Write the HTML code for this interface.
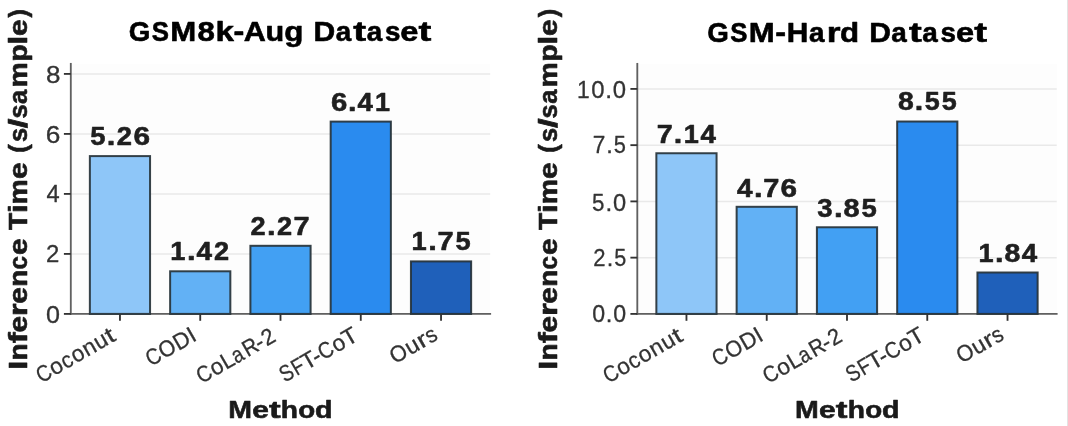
<!DOCTYPE html>
<html><head><meta charset="utf-8"><style>
html,body{margin:0;padding:0;background:#fff;width:1068px;height:426px;overflow:hidden}
svg{display:block;will-change:transform;font-family:"Liberation Sans", sans-serif}
</style></head><body>
<svg width="1068" height="426" viewBox="0 0 1068 426" shape-rendering="auto">
<rect width="1068" height="426" fill="#fff"/>
<rect x="70.80" y="63.85" width="419.40" height="250.05" fill="#fdfdfd"/>
<line x1="70.80" x2="490.20" y1="313.90" y2="313.90" stroke="#e9e9e9" stroke-width="1.5"/>
<line x1="70.80" x2="490.20" y1="253.90" y2="253.90" stroke="#e9e9e9" stroke-width="1.5"/>
<line x1="70.80" x2="490.20" y1="193.90" y2="193.90" stroke="#e9e9e9" stroke-width="1.5"/>
<line x1="70.80" x2="490.20" y1="133.90" y2="133.90" stroke="#e9e9e9" stroke-width="1.5"/>
<line x1="70.80" x2="490.20" y1="73.90" y2="73.90" stroke="#e9e9e9" stroke-width="1.5"/>
<line x1="70.80" x2="70.80" y1="62.95" y2="314.80" stroke="#606060" stroke-width="1.85"/>
<line x1="69.90" x2="491.10" y1="313.90" y2="313.90" stroke="#606060" stroke-width="1.85"/>
<rect x="89.86" y="156.10" width="60.20" height="157.80" fill="#8EC6F8" stroke="#263238" stroke-opacity="0.92" stroke-width="2.0"/>
<rect x="170.13" y="271.30" width="60.20" height="42.60" fill="#62B1F5" stroke="#263238" stroke-opacity="0.92" stroke-width="2.0"/>
<rect x="250.40" y="245.80" width="60.20" height="68.10" fill="#42A0F3" stroke="#263238" stroke-opacity="0.92" stroke-width="2.0"/>
<rect x="330.67" y="121.60" width="60.20" height="192.30" fill="#2A8BEF" stroke="#263238" stroke-opacity="0.92" stroke-width="2.0"/>
<rect x="410.94" y="261.40" width="60.20" height="52.50" fill="#1F60BA" stroke="#263238" stroke-opacity="0.92" stroke-width="2.0"/>
<line x1="63.90" x2="70.80" y1="313.90" y2="313.90" stroke="#333333" stroke-width="1.85"/>
<line x1="63.90" x2="70.80" y1="253.90" y2="253.90" stroke="#333333" stroke-width="1.85"/>
<line x1="63.90" x2="70.80" y1="193.90" y2="193.90" stroke="#333333" stroke-width="1.85"/>
<line x1="63.90" x2="70.80" y1="133.90" y2="133.90" stroke="#333333" stroke-width="1.85"/>
<line x1="63.90" x2="70.80" y1="73.90" y2="73.90" stroke="#333333" stroke-width="1.85"/>
<line x1="119.96" x2="119.96" y1="313.90" y2="320.80" stroke="#333333" stroke-width="1.85"/>
<line x1="200.23" x2="200.23" y1="313.90" y2="320.80" stroke="#333333" stroke-width="1.85"/>
<line x1="280.50" x2="280.50" y1="313.90" y2="320.80" stroke="#333333" stroke-width="1.85"/>
<line x1="360.77" x2="360.77" y1="313.90" y2="320.80" stroke="#333333" stroke-width="1.85"/>
<line x1="441.04" x2="441.04" y1="313.90" y2="320.80" stroke="#333333" stroke-width="1.85"/>
<rect x="637.30" y="63.85" width="419.40" height="250.05" fill="#fdfdfd"/>
<line x1="637.30" x2="1056.70" y1="313.90" y2="313.90" stroke="#e9e9e9" stroke-width="1.5"/>
<line x1="637.30" x2="1056.70" y1="257.65" y2="257.65" stroke="#e9e9e9" stroke-width="1.5"/>
<line x1="637.30" x2="1056.70" y1="201.40" y2="201.40" stroke="#e9e9e9" stroke-width="1.5"/>
<line x1="637.30" x2="1056.70" y1="145.15" y2="145.15" stroke="#e9e9e9" stroke-width="1.5"/>
<line x1="637.30" x2="1056.70" y1="88.90" y2="88.90" stroke="#e9e9e9" stroke-width="1.5"/>
<line x1="637.30" x2="637.30" y1="62.95" y2="314.80" stroke="#606060" stroke-width="1.85"/>
<line x1="636.40" x2="1057.60" y1="313.90" y2="313.90" stroke="#606060" stroke-width="1.85"/>
<rect x="656.36" y="153.25" width="60.20" height="160.65" fill="#8EC6F8" stroke="#263238" stroke-opacity="0.92" stroke-width="2.0"/>
<rect x="736.63" y="206.80" width="60.20" height="107.10" fill="#62B1F5" stroke="#263238" stroke-opacity="0.92" stroke-width="2.0"/>
<rect x="816.90" y="227.27" width="60.20" height="86.62" fill="#42A0F3" stroke="#263238" stroke-opacity="0.92" stroke-width="2.0"/>
<rect x="897.17" y="121.52" width="60.20" height="192.38" fill="#2A8BEF" stroke="#263238" stroke-opacity="0.92" stroke-width="2.0"/>
<rect x="977.44" y="272.50" width="60.20" height="41.40" fill="#1F60BA" stroke="#263238" stroke-opacity="0.92" stroke-width="2.0"/>
<line x1="630.40" x2="637.30" y1="313.90" y2="313.90" stroke="#333333" stroke-width="1.85"/>
<line x1="630.40" x2="637.30" y1="257.65" y2="257.65" stroke="#333333" stroke-width="1.85"/>
<line x1="630.40" x2="637.30" y1="201.40" y2="201.40" stroke="#333333" stroke-width="1.85"/>
<line x1="630.40" x2="637.30" y1="145.15" y2="145.15" stroke="#333333" stroke-width="1.85"/>
<line x1="630.40" x2="637.30" y1="88.90" y2="88.90" stroke="#333333" stroke-width="1.85"/>
<line x1="686.46" x2="686.46" y1="313.90" y2="320.80" stroke="#333333" stroke-width="1.85"/>
<line x1="766.73" x2="766.73" y1="313.90" y2="320.80" stroke="#333333" stroke-width="1.85"/>
<line x1="847.00" x2="847.00" y1="313.90" y2="320.80" stroke="#333333" stroke-width="1.85"/>
<line x1="927.27" x2="927.27" y1="313.90" y2="320.80" stroke="#333333" stroke-width="1.85"/>
<line x1="1007.54" x2="1007.54" y1="313.90" y2="320.80" stroke="#333333" stroke-width="1.85"/>
<text id="t0" y="41.22" font-size="28.40" font-weight="bold" stroke="#000" stroke-width="0.6" stroke-linejoin="round" fill="#000"><tspan x="128.77" textLength="21.61" lengthAdjust="spacingAndGlyphs">G</tspan><tspan x="151.82" textLength="17.22" lengthAdjust="spacingAndGlyphs">S</tspan><tspan x="170.38" textLength="25.98" lengthAdjust="spacingAndGlyphs">M</tspan><tspan x="197.40" textLength="17.35" lengthAdjust="spacingAndGlyphs">8</tspan><tspan x="215.40" textLength="18.41" lengthAdjust="spacingAndGlyphs">k</tspan><tspan x="233.52" textLength="10.81" lengthAdjust="spacingAndGlyphs">-</tspan><tspan x="243.86" textLength="22.11" lengthAdjust="spacingAndGlyphs">A</tspan><tspan x="265.50" textLength="18.70" lengthAdjust="spacingAndGlyphs">u</tspan><tspan x="284.36" textLength="19.16" lengthAdjust="spacingAndGlyphs">g</tspan><tspan x="304.41"> </tspan><tspan x="313.49" textLength="21.72" lengthAdjust="spacingAndGlyphs">D</tspan><tspan x="335.69" textLength="15.51" lengthAdjust="spacingAndGlyphs">a</tspan><tspan x="353.38" textLength="12.82" lengthAdjust="spacingAndGlyphs">t</tspan><tspan x="366.68" textLength="15.51" lengthAdjust="spacingAndGlyphs">a</tspan><tspan x="384.90" textLength="15.45" lengthAdjust="spacingAndGlyphs">s</tspan><tspan x="400.37" textLength="18.17" lengthAdjust="spacingAndGlyphs">e</tspan><tspan x="418.61" textLength="12.82" lengthAdjust="spacingAndGlyphs">t</tspan></text>
<text id="xl0" y="418.40" font-size="24.70" font-weight="bold" stroke="#1a1a1a" stroke-width="0.6" stroke-linejoin="round" fill="#1a1a1a"><tspan x="228.23" textLength="23.76" lengthAdjust="spacingAndGlyphs">M</tspan><tspan x="252.24" textLength="16.62" lengthAdjust="spacingAndGlyphs">e</tspan><tspan x="268.92" textLength="11.73" lengthAdjust="spacingAndGlyphs">t</tspan><tspan x="280.87" textLength="17.24" lengthAdjust="spacingAndGlyphs">h</tspan><tspan x="298.26" textLength="16.95" lengthAdjust="spacingAndGlyphs">o</tspan><tspan x="315.11" textLength="17.49" lengthAdjust="spacingAndGlyphs">d</tspan></text>
<text id="yl0" y="188.97" font-size="24.90" font-weight="bold" stroke="#1a1a1a" stroke-width="0.6" stroke-linejoin="round" fill="#1a1a1a" transform="rotate(-90 27.00 188.97)"><tspan x="-153.77" textLength="8.91" lengthAdjust="spacingAndGlyphs">I</tspan><tspan x="-144.52" textLength="17.10" lengthAdjust="spacingAndGlyphs">n</tspan><tspan x="-127.33" textLength="10.94" lengthAdjust="spacingAndGlyphs">f</tspan><tspan x="-116.65" textLength="16.62" lengthAdjust="spacingAndGlyphs">e</tspan><tspan x="-99.94" textLength="12.61" lengthAdjust="spacingAndGlyphs">r</tspan><tspan x="-87.86" textLength="16.62" lengthAdjust="spacingAndGlyphs">e</tspan><tspan x="-70.85" textLength="17.10" lengthAdjust="spacingAndGlyphs">n</tspan><tspan x="-53.47" textLength="13.53" lengthAdjust="spacingAndGlyphs">c</tspan><tspan x="-39.11" textLength="16.62" lengthAdjust="spacingAndGlyphs">e</tspan><tspan x="-21.51"> </tspan><tspan x="-13.96" textLength="17.13" lengthAdjust="spacingAndGlyphs">T</tspan><tspan x="2.88" textLength="8.70" lengthAdjust="spacingAndGlyphs">i</tspan><tspan x="11.59" textLength="25.27" lengthAdjust="spacingAndGlyphs">m</tspan><tspan x="36.93" textLength="16.62" lengthAdjust="spacingAndGlyphs">e</tspan><tspan x="54.53"> </tspan><tspan x="63.12" textLength="8.44" lengthAdjust="spacingAndGlyphs">(</tspan><tspan x="73.89" textLength="14.13" lengthAdjust="spacingAndGlyphs">s</tspan><tspan x="87.80" textLength="9.66" lengthAdjust="spacingAndGlyphs">/</tspan><tspan x="97.50" textLength="14.13" lengthAdjust="spacingAndGlyphs">s</tspan><tspan x="112.06" textLength="14.19" lengthAdjust="spacingAndGlyphs">a</tspan><tspan x="128.51" textLength="25.27" lengthAdjust="spacingAndGlyphs">m</tspan><tspan x="154.13" textLength="17.49" lengthAdjust="spacingAndGlyphs">p</tspan><tspan x="171.43" textLength="8.70" lengthAdjust="spacingAndGlyphs">l</tspan><tspan x="179.87" textLength="16.62" lengthAdjust="spacingAndGlyphs">e</tspan><tspan x="198.59" textLength="8.44" lengthAdjust="spacingAndGlyphs">)</tspan></text>
<text id="yt00" y="322.84" font-size="23.00" stroke="#333333" stroke-width="0.3" stroke-linejoin="round" fill="#333333"><tspan x="46.11" textLength="13.97" lengthAdjust="spacingAndGlyphs">0</tspan></text>
<text id="yt01" y="261.92" font-size="23.00" stroke="#333333" stroke-width="0.3" stroke-linejoin="round" fill="#333333"><tspan x="46.03" textLength="13.31" lengthAdjust="spacingAndGlyphs">2</tspan></text>
<text id="yt02" y="202.18" font-size="23.00" stroke="#333333" stroke-width="0.3" stroke-linejoin="round" fill="#333333"><tspan x="46.56" textLength="13.16" lengthAdjust="spacingAndGlyphs">4</tspan></text>
<text id="yt03" y="142.56" font-size="23.00" stroke="#333333" stroke-width="0.3" stroke-linejoin="round" fill="#333333"><tspan x="45.86" textLength="14.61" lengthAdjust="spacingAndGlyphs">6</tspan></text>
<text id="yt04" y="82.52" font-size="23.00" stroke="#333333" stroke-width="0.3" stroke-linejoin="round" fill="#333333"><tspan x="45.99" textLength="14.46" lengthAdjust="spacingAndGlyphs">8</tspan></text>
<text id="v00" y="144.99" font-size="26.40" font-weight="bold" stroke="#1f1f1f" stroke-width="0.6" stroke-linejoin="round" fill="#1f1f1f"><tspan x="90.18" textLength="15.24" lengthAdjust="spacingAndGlyphs">5</tspan><tspan x="106.83" textLength="8.60" lengthAdjust="spacingAndGlyphs">.</tspan><tspan x="116.85" textLength="15.20" lengthAdjust="spacingAndGlyphs">2</tspan><tspan x="133.56" textLength="16.58" lengthAdjust="spacingAndGlyphs">6</tspan></text>
<text id="v01" y="259.97" font-size="26.40" font-weight="bold" stroke="#1f1f1f" stroke-width="0.6" stroke-linejoin="round" fill="#1f1f1f"><tspan x="170.39" textLength="15.18" lengthAdjust="spacingAndGlyphs">1</tspan><tspan x="186.94" textLength="8.55" lengthAdjust="spacingAndGlyphs">.</tspan><tspan x="196.57" textLength="15.51" lengthAdjust="spacingAndGlyphs">4</tspan><tspan x="214.08" textLength="15.11" lengthAdjust="spacingAndGlyphs">2</tspan></text>
<text id="v02" y="235.17" font-size="26.40" font-weight="bold" stroke="#1f1f1f" stroke-width="0.6" stroke-linejoin="round" fill="#1f1f1f"><tspan x="250.50" textLength="15.10" lengthAdjust="spacingAndGlyphs">2</tspan><tspan x="267.09" textLength="8.54" lengthAdjust="spacingAndGlyphs">.</tspan><tspan x="277.04" textLength="15.10" lengthAdjust="spacingAndGlyphs">2</tspan><tspan x="293.60" textLength="16.06" lengthAdjust="spacingAndGlyphs">7</tspan></text>
<text id="v03" y="110.51" font-size="26.40" font-weight="bold" stroke="#1f1f1f" stroke-width="0.6" stroke-linejoin="round" fill="#1f1f1f"><tspan x="331.06" textLength="16.31" lengthAdjust="spacingAndGlyphs">6</tspan><tspan x="348.05" textLength="8.46" lengthAdjust="spacingAndGlyphs">.</tspan><tspan x="357.58" textLength="15.35" lengthAdjust="spacingAndGlyphs">4</tspan><tspan x="374.96" textLength="15.01" lengthAdjust="spacingAndGlyphs">1</tspan></text>
<text id="v04" y="250.33" font-size="26.40" font-weight="bold" stroke="#1f1f1f" stroke-width="0.6" stroke-linejoin="round" fill="#1f1f1f"><tspan x="411.64" textLength="15.21" lengthAdjust="spacingAndGlyphs">1</tspan><tspan x="428.23" textLength="8.57" lengthAdjust="spacingAndGlyphs">.</tspan><tspan x="437.61" textLength="16.12" lengthAdjust="spacingAndGlyphs">7</tspan><tspan x="455.49" textLength="15.18" lengthAdjust="spacingAndGlyphs">5</tspan></text>
<text id="xt00" y="339.62" font-size="22.80" stroke="#333333" stroke-width="0.3" stroke-linejoin="round" fill="#333333" transform="rotate(-30 117.33 339.62)"><tspan x="29.79" textLength="14.24" lengthAdjust="spacingAndGlyphs">C</tspan><tspan x="44.65" textLength="12.56" lengthAdjust="spacingAndGlyphs">o</tspan><tspan x="57.69" textLength="10.65" lengthAdjust="spacingAndGlyphs">c</tspan><tspan x="69.32" textLength="12.56" lengthAdjust="spacingAndGlyphs">o</tspan><tspan x="82.50" textLength="12.73" lengthAdjust="spacingAndGlyphs">n</tspan><tspan x="95.87" textLength="12.73" lengthAdjust="spacingAndGlyphs">u</tspan><tspan x="109.15" textLength="7.89" lengthAdjust="spacingAndGlyphs">t</tspan></text>
<text id="xt01" y="339.65" font-size="22.80" stroke="#333333" stroke-width="0.3" stroke-linejoin="round" fill="#333333" transform="rotate(-30 197.98 339.65)"><tspan x="143.67" textLength="14.33" lengthAdjust="spacingAndGlyphs">C</tspan><tspan x="158.60" textLength="16.43" lengthAdjust="spacingAndGlyphs">O</tspan><tspan x="175.51" textLength="15.97" lengthAdjust="spacingAndGlyphs">D</tspan><tspan x="191.69" textLength="6.28" lengthAdjust="spacingAndGlyphs">I</tspan></text>
<text id="xt02" y="339.95" font-size="22.80" stroke="#333333" stroke-width="0.3" stroke-linejoin="round" fill="#333333" transform="rotate(-30 278.03 339.95)"><tspan x="190.02" textLength="14.31" lengthAdjust="spacingAndGlyphs">C</tspan><tspan x="204.96" textLength="12.62" lengthAdjust="spacingAndGlyphs">o</tspan><tspan x="218.09" textLength="12.21" lengthAdjust="spacingAndGlyphs">L</tspan><tspan x="230.16" textLength="10.68" lengthAdjust="spacingAndGlyphs">a</tspan><tspan x="243.20" textLength="14.75" lengthAdjust="spacingAndGlyphs">R</tspan><tspan x="256.76" textLength="7.66" lengthAdjust="spacingAndGlyphs">-</tspan><tspan x="264.92" textLength="12.06" lengthAdjust="spacingAndGlyphs">2</tspan></text>
<text id="xt03" y="339.86" font-size="22.80" stroke="#333333" stroke-width="0.3" stroke-linejoin="round" fill="#333333" transform="rotate(-30 359.18 339.86)"><tspan x="273.37" textLength="12.86" lengthAdjust="spacingAndGlyphs">S</tspan><tspan x="287.15" textLength="11.32" lengthAdjust="spacingAndGlyphs">F</tspan><tspan x="298.01" textLength="14.41" lengthAdjust="spacingAndGlyphs">T</tspan><tspan x="309.85" textLength="7.76" lengthAdjust="spacingAndGlyphs">-</tspan><tspan x="317.83" textLength="14.50" lengthAdjust="spacingAndGlyphs">C</tspan><tspan x="332.96" textLength="12.79" lengthAdjust="spacingAndGlyphs">o</tspan><tspan x="345.37" textLength="14.41" lengthAdjust="spacingAndGlyphs">T</tspan></text>
<text id="xt04" y="338.67" font-size="22.80" stroke="#333333" stroke-width="0.3" stroke-linejoin="round" fill="#333333" transform="rotate(-30 439.25 338.67)"><tspan x="388.15" textLength="16.76" lengthAdjust="spacingAndGlyphs">O</tspan><tspan x="405.43" textLength="13.07" lengthAdjust="spacingAndGlyphs">u</tspan><tspan x="419.05" textLength="9.30" lengthAdjust="spacingAndGlyphs">r</tspan><tspan x="428.49" textLength="10.45" lengthAdjust="spacingAndGlyphs">s</tspan></text>
<text id="t1" y="42.39" font-size="28.40" font-weight="bold" stroke="#000" stroke-width="0.6" stroke-linejoin="round" fill="#000"><tspan x="707.25" textLength="21.58" lengthAdjust="spacingAndGlyphs">G</tspan><tspan x="730.28" textLength="17.20" lengthAdjust="spacingAndGlyphs">S</tspan><tspan x="748.82" textLength="25.95" lengthAdjust="spacingAndGlyphs">M</tspan><tspan x="775.35" textLength="10.80" lengthAdjust="spacingAndGlyphs">-</tspan><tspan x="786.77" textLength="21.55" lengthAdjust="spacingAndGlyphs">H</tspan><tspan x="809.11" textLength="15.50" lengthAdjust="spacingAndGlyphs">a</tspan><tspan x="826.82" textLength="13.78" lengthAdjust="spacingAndGlyphs">r</tspan><tspan x="840.07" textLength="19.11" lengthAdjust="spacingAndGlyphs">d</tspan><tspan x="860.09"> </tspan><tspan x="869.17" textLength="21.69" lengthAdjust="spacingAndGlyphs">D</tspan><tspan x="891.34" textLength="15.50" lengthAdjust="spacingAndGlyphs">a</tspan><tspan x="909.01" textLength="12.81" lengthAdjust="spacingAndGlyphs">t</tspan><tspan x="922.30" textLength="15.50" lengthAdjust="spacingAndGlyphs">a</tspan><tspan x="940.50" textLength="15.44" lengthAdjust="spacingAndGlyphs">s</tspan><tspan x="955.95" textLength="18.15" lengthAdjust="spacingAndGlyphs">e</tspan><tspan x="974.17" textLength="12.81" lengthAdjust="spacingAndGlyphs">t</tspan></text>
<text id="xl1" y="418.38" font-size="24.70" font-weight="bold" stroke="#1a1a1a" stroke-width="0.6" stroke-linejoin="round" fill="#1a1a1a"><tspan x="795.11" textLength="23.77" lengthAdjust="spacingAndGlyphs">M</tspan><tspan x="819.13" textLength="16.63" lengthAdjust="spacingAndGlyphs">e</tspan><tspan x="835.82" textLength="11.73" lengthAdjust="spacingAndGlyphs">t</tspan><tspan x="847.77" textLength="17.25" lengthAdjust="spacingAndGlyphs">h</tspan><tspan x="865.16" textLength="16.95" lengthAdjust="spacingAndGlyphs">o</tspan><tspan x="882.02" textLength="17.50" lengthAdjust="spacingAndGlyphs">d</tspan></text>
<text id="yl1" y="188.91" font-size="24.90" font-weight="bold" stroke="#1a1a1a" stroke-width="0.6" stroke-linejoin="round" fill="#1a1a1a" transform="rotate(-90 557.50 188.91)"><tspan x="376.73" textLength="8.91" lengthAdjust="spacingAndGlyphs">I</tspan><tspan x="385.98" textLength="17.10" lengthAdjust="spacingAndGlyphs">n</tspan><tspan x="403.17" textLength="10.94" lengthAdjust="spacingAndGlyphs">f</tspan><tspan x="413.85" textLength="16.62" lengthAdjust="spacingAndGlyphs">e</tspan><tspan x="430.56" textLength="12.61" lengthAdjust="spacingAndGlyphs">r</tspan><tspan x="442.64" textLength="16.62" lengthAdjust="spacingAndGlyphs">e</tspan><tspan x="459.65" textLength="17.10" lengthAdjust="spacingAndGlyphs">n</tspan><tspan x="477.03" textLength="13.53" lengthAdjust="spacingAndGlyphs">c</tspan><tspan x="491.39" textLength="16.62" lengthAdjust="spacingAndGlyphs">e</tspan><tspan x="508.99"> </tspan><tspan x="516.54" textLength="17.13" lengthAdjust="spacingAndGlyphs">T</tspan><tspan x="533.38" textLength="8.70" lengthAdjust="spacingAndGlyphs">i</tspan><tspan x="542.09" textLength="25.27" lengthAdjust="spacingAndGlyphs">m</tspan><tspan x="567.43" textLength="16.62" lengthAdjust="spacingAndGlyphs">e</tspan><tspan x="585.03"> </tspan><tspan x="593.62" textLength="8.44" lengthAdjust="spacingAndGlyphs">(</tspan><tspan x="604.39" textLength="14.13" lengthAdjust="spacingAndGlyphs">s</tspan><tspan x="618.30" textLength="9.66" lengthAdjust="spacingAndGlyphs">/</tspan><tspan x="628.00" textLength="14.13" lengthAdjust="spacingAndGlyphs">s</tspan><tspan x="642.56" textLength="14.19" lengthAdjust="spacingAndGlyphs">a</tspan><tspan x="659.01" textLength="25.27" lengthAdjust="spacingAndGlyphs">m</tspan><tspan x="684.63" textLength="17.49" lengthAdjust="spacingAndGlyphs">p</tspan><tspan x="701.93" textLength="8.70" lengthAdjust="spacingAndGlyphs">l</tspan><tspan x="710.37" textLength="16.62" lengthAdjust="spacingAndGlyphs">e</tspan><tspan x="729.09" textLength="8.44" lengthAdjust="spacingAndGlyphs">)</tspan></text>
<text id="yt10" y="322.06" font-size="23.00" stroke="#333333" stroke-width="0.3" stroke-linejoin="round" fill="#333333"><tspan x="592.25" textLength="12.87" lengthAdjust="spacingAndGlyphs">0</tspan><tspan x="605.85" textLength="6.60" lengthAdjust="spacingAndGlyphs">.</tspan><tspan x="613.20" textLength="12.87" lengthAdjust="spacingAndGlyphs">0</tspan></text>
<text id="yt11" y="265.79" font-size="23.00" stroke="#333333" stroke-width="0.3" stroke-linejoin="round" fill="#333333"><tspan x="593.25" textLength="12.27" lengthAdjust="spacingAndGlyphs">2</tspan><tspan x="606.76" textLength="6.53" lengthAdjust="spacingAndGlyphs">.</tspan><tspan x="614.29" textLength="12.01" lengthAdjust="spacingAndGlyphs">5</tspan></text>
<text id="yt12" y="210.78" font-size="23.00" stroke="#333333" stroke-width="0.3" stroke-linejoin="round" fill="#333333"><tspan x="591.88" textLength="12.41" lengthAdjust="spacingAndGlyphs">5</tspan><tspan x="605.50" textLength="6.74" lengthAdjust="spacingAndGlyphs">.</tspan><tspan x="613.01" textLength="13.15" lengthAdjust="spacingAndGlyphs">0</tspan></text>
<text id="yt13" y="153.25" font-size="23.00" stroke="#333333" stroke-width="0.3" stroke-linejoin="round" fill="#333333"><tspan x="592.69" textLength="12.58" lengthAdjust="spacingAndGlyphs">7</tspan><tspan x="606.19" textLength="6.59" lengthAdjust="spacingAndGlyphs">.</tspan><tspan x="613.80" textLength="12.14" lengthAdjust="spacingAndGlyphs">5</tspan></text>
<text id="yt14" y="97.70" font-size="23.00" stroke="#333333" stroke-width="0.3" stroke-linejoin="round" fill="#333333"><tspan x="576.93" textLength="12.68" lengthAdjust="spacingAndGlyphs">1</tspan><tspan x="591.15" textLength="13.28" lengthAdjust="spacingAndGlyphs">0</tspan><tspan x="605.19" textLength="6.81" lengthAdjust="spacingAndGlyphs">.</tspan><tspan x="612.76" textLength="13.28" lengthAdjust="spacingAndGlyphs">0</tspan></text>
<text id="v10" y="143.14" font-size="26.40" font-weight="bold" stroke="#1f1f1f" stroke-width="0.6" stroke-linejoin="round" fill="#1f1f1f"><tspan x="656.75" textLength="15.98" lengthAdjust="spacingAndGlyphs">7</tspan><tspan x="673.85" textLength="8.49" lengthAdjust="spacingAndGlyphs">.</tspan><tspan x="683.80" textLength="15.08" lengthAdjust="spacingAndGlyphs">1</tspan><tspan x="700.50" textLength="15.42" lengthAdjust="spacingAndGlyphs">4</tspan></text>
<text id="v11" y="196.67" font-size="26.40" font-weight="bold" stroke="#1f1f1f" stroke-width="0.6" stroke-linejoin="round" fill="#1f1f1f"><tspan x="736.99" textLength="15.56" lengthAdjust="spacingAndGlyphs">4</tspan><tspan x="753.98" textLength="8.57" lengthAdjust="spacingAndGlyphs">.</tspan><tspan x="763.36" textLength="16.13" lengthAdjust="spacingAndGlyphs">7</tspan><tspan x="780.64" textLength="16.53" lengthAdjust="spacingAndGlyphs">6</tspan></text>
<text id="v12" y="216.66" font-size="26.40" font-weight="bold" stroke="#1f1f1f" stroke-width="0.6" stroke-linejoin="round" fill="#1f1f1f"><tspan x="817.19" textLength="15.34" lengthAdjust="spacingAndGlyphs">3</tspan><tspan x="833.96" textLength="8.64" lengthAdjust="spacingAndGlyphs">.</tspan><tspan x="843.61" textLength="16.10" lengthAdjust="spacingAndGlyphs">8</tspan><tspan x="861.45" textLength="15.31" lengthAdjust="spacingAndGlyphs">5</tspan></text>
<text id="v13" y="110.43" font-size="26.40" font-weight="bold" stroke="#1f1f1f" stroke-width="0.6" stroke-linejoin="round" fill="#1f1f1f"><tspan x="897.94" textLength="15.77" lengthAdjust="spacingAndGlyphs">8</tspan><tspan x="914.77" textLength="8.46" lengthAdjust="spacingAndGlyphs">.</tspan><tspan x="924.68" textLength="14.99" lengthAdjust="spacingAndGlyphs">5</tspan><tspan x="941.68" textLength="14.99" lengthAdjust="spacingAndGlyphs">5</tspan></text>
<text id="v14" y="261.65" font-size="26.40" font-weight="bold" stroke="#1f1f1f" stroke-width="0.6" stroke-linejoin="round" fill="#1f1f1f"><tspan x="978.54" textLength="15.09" lengthAdjust="spacingAndGlyphs">1</tspan><tspan x="995.00" textLength="8.50" lengthAdjust="spacingAndGlyphs">.</tspan><tspan x="1004.50" textLength="15.85" lengthAdjust="spacingAndGlyphs">8</tspan><tspan x="1021.67" textLength="15.43" lengthAdjust="spacingAndGlyphs">4</tspan></text>
<text id="xt10" y="339.78" font-size="22.80" stroke="#333333" stroke-width="0.3" stroke-linejoin="round" fill="#333333" transform="rotate(-30 684.56 339.78)"><tspan x="596.68" textLength="14.29" lengthAdjust="spacingAndGlyphs">C</tspan><tspan x="611.60" textLength="12.60" lengthAdjust="spacingAndGlyphs">o</tspan><tspan x="624.69" textLength="10.70" lengthAdjust="spacingAndGlyphs">c</tspan><tspan x="636.37" textLength="12.60" lengthAdjust="spacingAndGlyphs">o</tspan><tspan x="649.59" textLength="12.78" lengthAdjust="spacingAndGlyphs">n</tspan><tspan x="663.01" textLength="12.78" lengthAdjust="spacingAndGlyphs">u</tspan><tspan x="676.35" textLength="7.92" lengthAdjust="spacingAndGlyphs">t</tspan></text>
<text id="xt11" y="339.71" font-size="22.80" stroke="#333333" stroke-width="0.3" stroke-linejoin="round" fill="#333333" transform="rotate(-30 764.68 339.71)"><tspan x="710.13" textLength="14.39" lengthAdjust="spacingAndGlyphs">C</tspan><tspan x="725.12" textLength="16.51" lengthAdjust="spacingAndGlyphs">O</tspan><tspan x="742.11" textLength="16.04" lengthAdjust="spacingAndGlyphs">D</tspan><tspan x="758.36" textLength="6.31" lengthAdjust="spacingAndGlyphs">I</tspan></text>
<text id="xt12" y="340.01" font-size="22.80" stroke="#333333" stroke-width="0.3" stroke-linejoin="round" fill="#333333" transform="rotate(-30 844.71 340.01)"><tspan x="756.47" textLength="14.35" lengthAdjust="spacingAndGlyphs">C</tspan><tspan x="771.45" textLength="12.66" lengthAdjust="spacingAndGlyphs">o</tspan><tspan x="784.61" textLength="12.25" lengthAdjust="spacingAndGlyphs">L</tspan><tspan x="796.71" textLength="10.70" lengthAdjust="spacingAndGlyphs">a</tspan><tspan x="809.78" textLength="14.78" lengthAdjust="spacingAndGlyphs">R</tspan><tspan x="823.39" textLength="7.68" lengthAdjust="spacingAndGlyphs">-</tspan><tspan x="831.57" textLength="12.10" lengthAdjust="spacingAndGlyphs">2</tspan></text>
<text id="xt13" y="339.86" font-size="22.80" stroke="#333333" stroke-width="0.3" stroke-linejoin="round" fill="#333333" transform="rotate(-30 925.77 339.86)"><tspan x="839.81" textLength="12.88" lengthAdjust="spacingAndGlyphs">S</tspan><tspan x="853.61" textLength="11.34" lengthAdjust="spacingAndGlyphs">F</tspan><tspan x="864.49" textLength="14.43" lengthAdjust="spacingAndGlyphs">T</tspan><tspan x="876.35" textLength="7.78" lengthAdjust="spacingAndGlyphs">-</tspan><tspan x="884.35" textLength="14.52" lengthAdjust="spacingAndGlyphs">C</tspan><tspan x="899.51" textLength="12.81" lengthAdjust="spacingAndGlyphs">o</tspan><tspan x="911.94" textLength="14.43" lengthAdjust="spacingAndGlyphs">T</tspan></text>
<text id="xt14" y="338.57" font-size="22.80" stroke="#333333" stroke-width="0.3" stroke-linejoin="round" fill="#333333" transform="rotate(-30 1005.55 338.57)"><tspan x="954.94" textLength="16.60" lengthAdjust="spacingAndGlyphs">O</tspan><tspan x="972.05" textLength="12.95" lengthAdjust="spacingAndGlyphs">u</tspan><tspan x="985.54" textLength="9.21" lengthAdjust="spacingAndGlyphs">r</tspan><tspan x="994.89" textLength="10.35" lengthAdjust="spacingAndGlyphs">s</tspan></text>
<rect x="1067" y="0" width="1" height="426" fill="#e3e3e3"/>
</svg>
</body></html>
